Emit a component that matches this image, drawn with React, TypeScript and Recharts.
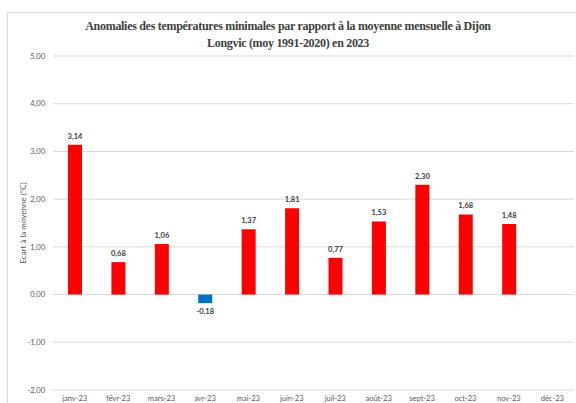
import React from "react";
import { BarChart, Bar, XAxis, YAxis, CartesianGrid, Cell, LabelList } from "recharts";

const months = ["janv-23", "févr-23", "mars-23", "avr-23", "mai-23", "juin-23", "juil-23", "août-23", "sept-23", "oct-23", "nov-23", "déc-23"];
const anomalies: (number | null)[] = [3.14, 0.68, 1.06, -0.18, 1.37, 1.81, 0.77, 1.53, 2.3, 1.68, 1.48, null];
const yTicks = [-2, -1, 0, 1, 2, 3, 4, 5];

const data = months.map((m, i) => ({ month: m, value: anomalies[i] }));

const fmt = (v: number) => v.toFixed(2).replace(".", ",");

const ValueLabel = (props: any) => {
    const { x, y, width, height, value } = props;
    if (value == null) return null;
    const neg = value < 0;
    const top = Math.min(y, y + height);
    const bottom = Math.max(y, y + height);
    const cy = neg ? bottom + 9 : top - 8;
    return (
        <text
            x={x + width / 2}
            y={cy}
            textAnchor="middle"
            dominantBaseline="middle"
            fontSize={7.5}
            fontWeight="bold"
            fill="#404040"
            fontFamily="Lato, sans-serif"
        >
            {fmt(value)}
        </text>
    );
};

export default function App() {
    return (
        <div style={{ position: "absolute", left: 0, top: 0, width: 576, height: 403, background: "#fff", overflow: "hidden" }}>
            <div
                style={{
                    position: "absolute",
                    left: 7,
                    top: 12,
                    width: 600,
                    height: 420,
                    border: "1px solid #d9d9d9",
                }}
            />
            <div
                style={{
                    position: "absolute",
                    left: 38,
                    width: 500,
                    top: 18,
                    textAlign: "center",
                    fontFamily: "'Liberation Serif', serif",
                    fontWeight: "bold",
                    fontSize: 12,
                    letterSpacing: -0.3,
                    lineHeight: "17px",
                    color: "#404040",
                }}
            >
                Anomalies des températures minimales par rapport à la moyenne mensuelle à Dijon
                <br />
                Longvic (moy 1991-2020) en 2023
            </div>
            <div style={{ position: "absolute", left: 0, top: 0 }}>
                <BarChart width={576} height={403} data={data} margin={{ top: 56, right: 2, bottom: 0, left: 0 }}>
                    <CartesianGrid vertical={false} stroke="#d9d9d9" />
                    <XAxis
                        dataKey="month"
                        height={13}
                        tickLine={false}
                        axisLine={false}
                        interval={0}
                        tick={{ fill: "#595959", fontSize: 7.5, fontFamily: "Lato, sans-serif", dy: -2 }}
                    />
                    <YAxis
                        width={53}
                        domain={[-2, 5]}
                        ticks={yTicks}
                        tickLine={false}
                        axisLine={false}
                        tickFormatter={(v: number) => fmt(v)}
                        tick={{ fill: "#595959", fontSize: 7.5, fontFamily: "Lato, sans-serif", dx: 0 }}
                        label={{
                            value: "Ecart à la moyenne (°C)",
                            angle: -90,
                            position: "insideLeft",
                            offset: 23,
                            style: { fill: "#595959", fontSize: 8, fontFamily: "Lato, sans-serif", textAnchor: "middle" },
                        }}
                    />
                    <Bar dataKey="value" barSize={14} isAnimationActive={false}>
                        {data.map((d, i) => (
                            <Cell key={`c-${i}`} fill={d.value != null && d.value < 0 ? "#0070C0" : "#FF0000"} />
                        ))}
                        <LabelList dataKey="value" content={<ValueLabel />} />
                    </Bar>
                </BarChart>
            </div>
        </div>
    );
}
